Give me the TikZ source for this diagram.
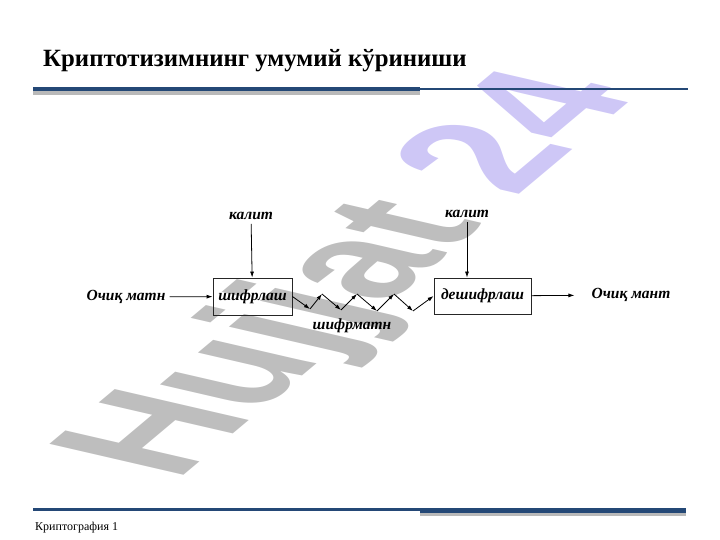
\documentclass[tikz,border=0pt]{standalone}
\usepackage{fontspec}
\setmainfont{Liberation Serif}
\newfontfamily\wmfont{Liberation Sans}
\usetikzlibrary{arrows.meta}
\definecolor{hdrblue}{RGB}{36,72,118}
\definecolor{hdrshadow}{RGB}{185,185,185}
\definecolor{wmgray}{RGB}{190,190,190}
\definecolor{wmviolet}{RGB}{206,199,246}
\tikzset{lbl/.style={font=\bfseries\itshape\fontsize{15.5}{18}\selectfont,inner sep=1pt},
         blk/.style={draw=black!85,line width=0.8pt,minimum width=79pt,minimum height=37pt,inner sep=0pt,
                     font=\bfseries\itshape\fontsize{15.5}{18}\selectfont},
         arr/.style={-{Latex[length=6pt,width=4pt]},line width=0.8pt}}

\begin{document}
\begin{tikzpicture}[x=1pt,y=1pt]
\useasboundingbox (0,0) rectangle (720,540);
\node[anchor=base west,inner sep=0,font=\wmfont\bfseries\fontsize{100}{100}\selectfont,
      cm={1.111,0.932,-1.949,0.450,(176,58)},transform shape] (wm) at (0,0)
      {\color{wmgray}Hujjat \color{wmviolet}24};
\node[anchor=base west,inner sep=0,font=\bfseries\fontsize{24.8}{28}\selectfont] (title) at (43,473)
      {Криптотизимнинг умумий кўриниши};
\fill[hdrshadow] (33,445) rectangle (420,449);
\fill[hdrblue] (33,449) rectangle (420,453);
\fill[hdrblue] (420,450) rectangle (688,452);
\fill[hdrblue] (33,29) rectangle (420,32);
\fill[hdrshadow] (420,24) rectangle (686,27);
\fill[hdrblue] (420,27) rectangle (686,32);
\node[anchor=base west,inner sep=0,font=\fontsize{12}{14}\selectfont] (foot) at (35,9) {Криптография 1};
\node[lbl] (plain) at (126,243) {Очиқ матн};
\node[blk] (enc) at (252.5,243.5) {шифрлаш};
\node[blk,minimum width=97pt,minimum height=36pt] (dec) at (482.5,244) {дешифрлаш};
\node[lbl] (key1) at (251,324) {калит};
\node[lbl] (key2) at (467,326) {калит};
\node[lbl] (cipher) at (352,214) {шифрматн};
\node[lbl] (plainout) at (631,245) {Очиқ мант};
\draw[arr,shorten <=3pt] (plain) -- (enc);
\draw[arr,shorten <=3pt] (key1) -- (enc);
\draw[arr,shorten <=3pt] (key2) -- (key2 |- dec.north);
\draw[arr,shorten >=16pt] (dec) -- (plainout);
\foreach \n/\x/\y in {1/310/231,2/322/246,3/341/230,4/357/246,5/377/229,6/394/246,7/413/229}
  \coordinate (z\n) at (\x,\y);
\draw[arr] (enc.east) -- (z1);
\foreach \a/\b in {1/2,2/3,3/4,4/5,5/6,6/7}
  \draw[arr] (z\a) -- (z\b);
\draw[arr] (z7) -- (dec.west);
\end{tikzpicture}
\end{document}
